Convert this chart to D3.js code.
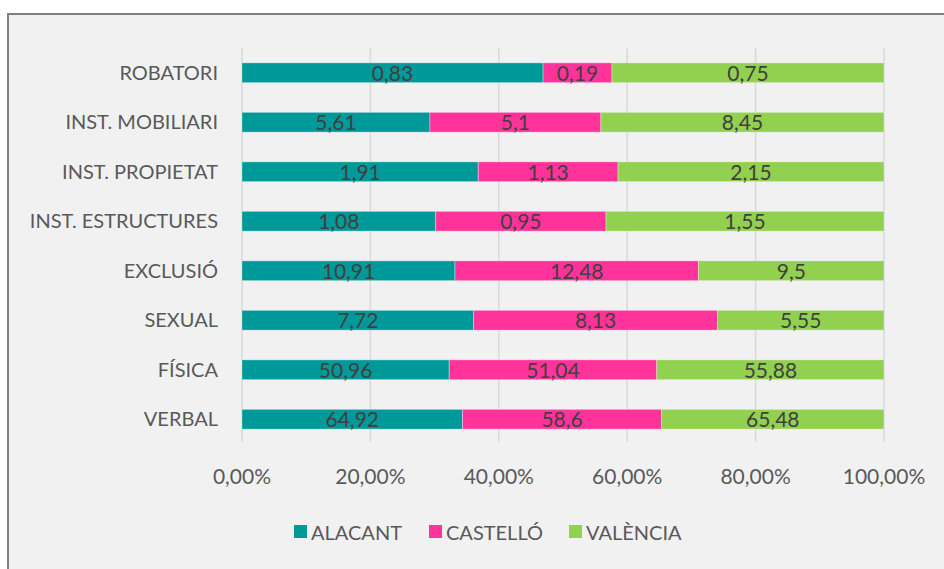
<!DOCTYPE html>
<html>
<head>
<meta charset="utf-8">
<script src="https://cdn.jsdelivr.net/npm/d3@7"></script>
<style>
    body { margin: 0; background: #ffffff; }
    text { font-family: Lato, "Open Sans", sans-serif; }
</style>
</head>
<body>
<svg id="chart" width="944" height="569"></svg>
<script>
// categories, top to bottom
var categories = ["ROBATORI", "INST. MOBILIARI", "INST. PROPIETAT", "INST. ESTRUCTURES",
    "EXCLUSIÓ", "SEXUAL", "FÍSICA", "VERBAL"];
var seriesNames = ["ALACANT", "CASTELLÓ", "VALÈNCIA"];
var alacant = [0.83, 5.61, 1.91, 1.08, 10.91, 7.72, 50.96, 64.92];
var castello = [0.19, 5.1, 1.13, 0.95, 12.48, 8.13, 51.04, 58.6];
var valencia = [0.75, 8.45, 2.15, 1.55, 9.5, 5.55, 55.88, 65.48];
var tickValues = [0, 0.2, 0.4, 0.6, 0.8, 1];
var colors = ["#009999", "#ff3399", "#92d050"];

var svg = d3.select("#chart");

// frame
svg.append("rect")
    .attr("x", 8).attr("y", 14)
    .attr("width", 950).attr("height", 570)
    .attr("fill", "#f1f1f1")
    .attr("stroke", "#7f7f7f")
    .attr("stroke-width", 2);

var plotLeft = 242, plotRight = 884, plotTop = 48, plotBottom = 444;
var fs = 20;

var x = d3.scaleLinear().domain([0, 1]).range([plotLeft, plotRight]);
var y = d3.scaleBand().domain(categories).range([plotTop, plotBottom]).paddingInner(0.6).paddingOuter(0.3);

// gridlines
svg.append("g")
    .selectAll("line")
    .data(tickValues)
    .enter()
    .append("line")
    .attr("x1", function (d) { return x(d) })
    .attr("x2", function (d) { return x(d) })
    .attr("y1", plotTop)
    .attr("y2", plotBottom - 2)
    .attr("stroke", "#d9d9d9")
    .attr("stroke-width", 1.5);

// build rows
var rows = categories.map(function (c, i) {
    var vals = [alacant[i], castello[i], valencia[i]];
    var total = d3.sum(vals);
    var acc = 0;
    return vals.map(function (v, j) {
        var seg = {cat: c, s: j, v: v, x0: acc / total, x1: (acc + v) / total};
        acc += v;
        return seg;
    });
});
var segs = [].concat.apply([], rows);

var bh = y.bandwidth();

svg.append("g")
    .selectAll("rect")
    .data(segs)
    .enter()
    .append("rect")
    .attr("x", function (d) { return x(d.x0) })
    .attr("y", function (d) { return y(d.cat) })
    .attr("width", function (d) { return x(d.x1) - x(d.x0) })
    .attr("height", bh)
    .attr("fill", function (d) { return colors[d.s] })
    .attr("stroke", "rgba(255,255,255,0.35)")
    .attr("stroke-width", 1);

svg.append("g")
    .selectAll("text")
    .data(segs)
    .enter()
    .append("text")
    .attr("x", function (d) { return (x(d.x0) + x(d.x1)) / 2 })
    .attr("y", function (d) { return y(d.cat) + bh / 2 })
    .attr("dy", "0.38em")
    .attr("text-anchor", "middle")
    .attr("font-size", 21)
    .attr("fill", "#404040")
    .text(function (d) { return String(d.v).replace(".", ",") });

// category labels
svg.append("g")
    .selectAll("text")
    .data(categories)
    .enter()
    .append("text")
    .attr("x", plotLeft - 24)
    .attr("y", function (d) { return y(d) + bh / 2 })
    .attr("dy", "0.36em")
    .attr("text-anchor", "end")
    .attr("font-size", fs)
    .attr("fill", "#595959")
    .text(function (d) { return d });

// x tick labels
svg.append("g")
    .selectAll("text")
    .data(tickValues)
    .enter()
    .append("text")
    .attr("x", function (d) { return x(d) })
    .attr("y", 476)
    .attr("dy", "0.36em")
    .attr("text-anchor", "middle")
    .attr("font-size", 21)
    .attr("fill", "#595959")
    .text(function (d) { return (d * 100).toFixed(2).replace(".", ",") + "%" });

// legend
var legendX = [294, 429, 569];
var legend = svg.append("g")
    .selectAll("g")
    .data(seriesNames)
    .enter()
    .append("g")
    .attr("transform", function (d, i) { return "translate(" + legendX[i] + ",533)" });

legend.append("rect")
    .attr("x", 0).attr("y", -8)
    .attr("width", 13).attr("height", 13)
    .attr("fill", function (d, i) { return colors[i] });

legend.append("text")
    .attr("x", 17)
    .attr("y", 0)
    .attr("dy", "0.36em")
    .attr("font-size", fs)
    .attr("fill", "#595959")
    .text(function (d) { return d });
</script>
</body>
</html>
